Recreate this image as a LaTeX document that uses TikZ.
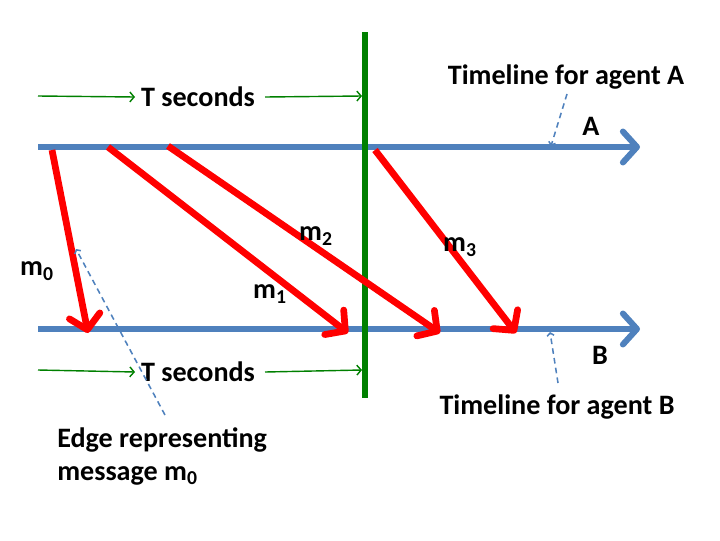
\documentclass[tikz,border=0pt]{standalone}
\usepackage{fontspec}
\setmainfont{Carlito}
\usetikzlibrary{arrows.meta}
\definecolor{lineblue}{RGB}{79,129,189}
\definecolor{darkgreen}{RGB}{0,128,0}
\tikzset{%
	timeline/.style={
		draw=lineblue,
		line width=4.3pt,
		-{Straight Barb[length=10pt,width=22pt,round]}
	},
	message/.style={
		draw=red,
		line width=4.8pt,
		-{Straight Barb[length=10pt,width=22pt,round]}
	},
	span/.style={
		draw=darkgreen,
		line width=1pt,
		-{Straight Barb[length=3pt,width=7pt]}
	},
	pointer/.style={
		draw=lineblue,
		dash pattern=on 4pt off 3pt,
		line width=1.1pt,
		-{Straight Barb[length=2pt,width=5pt]}
	},
	lbl/.style={
		font=\bfseries\fontsize{20}{23.5}\selectfont,
		inner sep=0pt
	},
}
\begin{document}
\begin{tikzpicture}[x=0.025cm, y=-0.025cm]
			\useasboundingbox (0,0) rectangle (720,540);
			
			% Draw the two timelines
			\coordinate (aStart) at (38,147);
			\coordinate (aEnd) at (640,147);
			\coordinate (bStart) at (38,329);
			\coordinate (bEnd) at (640,329);
			\draw[timeline] (aStart) -- (aEnd);
			\draw[timeline] (bStart) -- (bEnd);
			\node[lbl] (labelA) at (591,126) {A};
			\node[lbl] (labelB) at (600,355) {B};
			
			% Draw the deadline
			\coordinate (cutTop) at (365,32);
			\coordinate (cutBottom) at (365,398);
			\draw[darkgreen, line width=4pt] (cutTop) -- (cutBottom);
			
			% Draw the T seconds spans
			\node[lbl] (spanTop) at (198,97) {T seconds};
			\coordinate (spanTopL) at (38,96);
			\coordinate (spanTopR) at (362,96);
			\draw[span] (spanTopL) -- (spanTop.west -| 135,0);
			\draw[span] (spanTop.east -| 265,0) -- (spanTopR);
			\node[lbl] (spanBot) at (198,372) {T seconds};
			\coordinate (spanBotL) at (38,370);
			\coordinate (spanBotR) at (362,370);
			\draw[span] (spanBotL) -- (spanBot.west -| 135,0);
			\draw[span] (spanBot.east -| 265,0) -- (spanBotR);
			
			% Draw the messages
			\coordinate (s0) at (52,150);
			\coordinate (r0) at (88,333);
			\coordinate (s1) at (108,147);
			\coordinate (r1) at (348,333);
			\coordinate (s2) at (168,146);
			\coordinate (r2) at (440,333);
			\coordinate (s3) at (375,150);
			\coordinate (r3) at (516,333);
			\draw[message] (s0) -- (r0);
			\draw[message] (s1) -- (r1);
			\draw[message] (s2) -- (r2);
			\draw[message] (s3) -- (r3);
			\node[lbl] (m0) at (37,271) {m\textsubscript{0}};
			\node[lbl] (m1) at (270,294) {m\textsubscript{1}};
			\node[lbl] (m2) at (316,236) {m\textsubscript{2}};
			\node[lbl] (m3) at (460,247) {m\textsubscript{3}};
			
			% Draw the notes
			\node[lbl] (noteA) at (566,77) {Timeline for agent A};
			\coordinate (noteAfrom) at (567,94);
			\coordinate (noteAto) at (551,146);
			\draw[pointer] (noteAfrom) -- (noteAto);
			\node[lbl] (noteB) at (557,407) {Timeline for agent B};
			\coordinate (noteBfrom) at (558,383);
			\coordinate (noteBto) at (550,332);
			\draw[pointer] (noteBfrom) -- (noteBto);
			\node[lbl, align=left, anchor=north west] (noteEdge) at (57,427) {Edge representing\\message m\textsubscript{0}};
			\coordinate (noteEdgefrom) at (165,415);
			\coordinate (noteEdgeto) at (76,249);
			\draw[pointer] (noteEdgefrom) -- (noteEdgeto);
			
		\end{tikzpicture}
\end{document}
